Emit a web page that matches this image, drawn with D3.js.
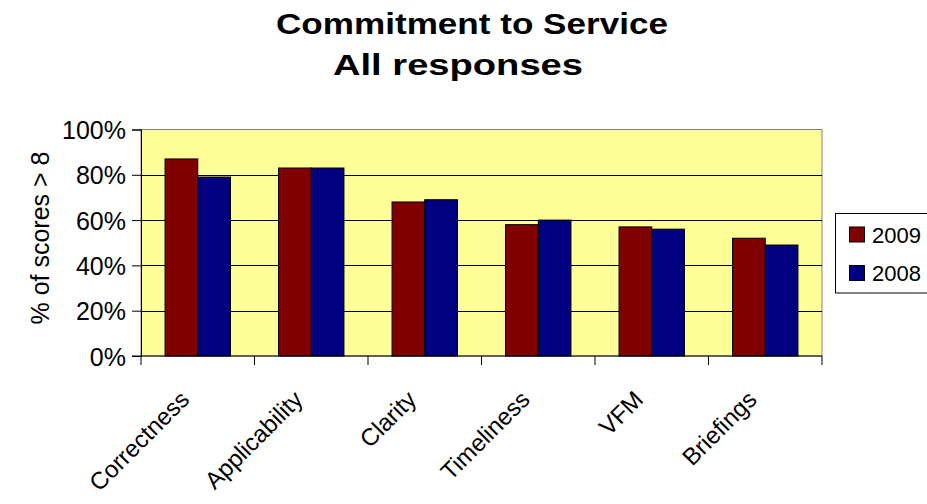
<!DOCTYPE html>
<html>
<head>
<meta charset="utf-8">
<script src="https://cdn.jsdelivr.net/npm/d3@7"></script>
<style>
  html, body { margin: 0; padding: 0; background: #fff; }
  svg { display: block; font-family: "Liberation Sans", Arial, sans-serif; }
</style>
</head>
<body>
<svg id="chart" width="927" height="504"></svg>
<script>
// Share of scores above 8, by service aspect
const categories = ["Correctness", "Applicability", "Clarity", "Timeliness", "VFM", "Briefings"];
const seriesNames = ["2009", "2008"];
const values2009 = [87, 83, 68, 58, 57, 52];
const values2008 = [79, 83, 69, 60, 56, 49];
const yTicks = [0, 20, 40, 60, 80, 100];
const titleLines = ["Commitment to Service", "All responses"];
const colors = ["#800000", "#000080"];

const FONT = "Liberation Sans, Arial, sans-serif";
const svg = d3.select("#chart");
const plot = { left: 141, right: 822, top: 129.5, bottom: 356 };

const x = d3.scaleBand().domain(categories).range([plot.left, plot.right]).paddingInner(0).paddingOuter(0);
const x1 = d3.scaleBand().domain(seriesNames).range([0, x.bandwidth()]).paddingInner(0).paddingOuter(0.735);
const y = d3.scaleLinear().domain([0, 100]).range([plot.bottom, plot.top]);

// plot background
svg.append("rect")
  .attr("x", plot.left).attr("y", plot.top)
  .attr("width", plot.right - plot.left).attr("height", plot.bottom - plot.top)
  .attr("fill", "#FFFF99").attr("stroke", "#808080").attr("stroke-width", 1);

// gridlines
svg.append("g").selectAll("line").data(yTicks.filter(d => d > 0 && d < 100)).join("line")
  .attr("x1", plot.left).attr("x2", plot.right)
  .attr("y1", d => Math.round(y(d)) + 0.5).attr("y2", d => Math.round(y(d)) + 0.5)
  .attr("stroke", "#000").attr("stroke-width", 1);

// bars
const rows = categories.map((c, i) => ({ cat: c, vals: [values2009[i], values2008[i]] }));
const groups = svg.append("g").selectAll("g").data(rows).join("g")
  .attr("transform", d => `translate(${x(d.cat)},0)`);
groups.selectAll("rect").data(d => d.vals.map((v, j) => ({ key: seriesNames[j], v, j }))).join("rect")
  .attr("x", d => x1(d.key))
  .attr("y", d => y(d.v))
  .attr("width", x1.bandwidth())
  .attr("height", d => y(0) - y(d.v))
  .attr("fill", d => colors[d.j])
  .attr("stroke", "#000").attr("stroke-width", 1);

// y axis
const yAxis = d3.axisLeft(y).tickValues(yTicks).tickFormat(d => d + "%").tickSize(9).tickPadding(6);
const gy = svg.append("g").attr("transform", `translate(${plot.left},0)`).call(yAxis);
gy.attr("font-family", FONT).attr("font-size", 25);
gy.select(".domain").attr("stroke", "#000");
gy.selectAll("line").attr("stroke", "#000");
gy.selectAll("text").attr("fill", "#000").attr("dy", "0.36em");

// x axis: ticks on category boundaries
const gx = svg.append("g").attr("transform", `translate(0,${plot.bottom})`);
gx.append("line").attr("x1", plot.left - 9).attr("x2", plot.right).attr("y1", 0).attr("y2", 0).attr("stroke", "#000");
const boundaries = categories.map(c => x(c)).concat([plot.right]);
gx.selectAll("line.tick").data(boundaries).join("line").attr("class", "tick")
  .attr("x1", d => d).attr("x2", d => d).attr("y1", 0).attr("y2", 9).attr("stroke", "#000");
gx.selectAll("text").data(categories).join("text")
  .attr("transform", d => `translate(${x(d) + x.bandwidth() / 2 - 7},${45}) rotate(-45)`)
  .attr("text-anchor", "end")
  .attr("font-size", 24)
  .attr("fill", "#000")
  .text(d => d);

// y axis title
svg.append("text")
  .attr("transform", `translate(49,238) rotate(-90)`)
  .attr("text-anchor", "middle")
  .attr("font-size", 25)
  .text("% of scores > 8");

// chart title
const title = svg.append("text").attr("text-anchor", "middle").attr("font-size", 29).attr("font-weight", "bold");
title.append("tspan").attr("x", 472).attr("y", 34).attr("textLength", 392).attr("lengthAdjust", "spacingAndGlyphs").text(titleLines[0]);
title.append("tspan").attr("x", 458).attr("y", 75).attr("textLength", 250).attr("lengthAdjust", "spacingAndGlyphs").text(titleLines[1]);

// legend
const legend = svg.append("g");
legend.append("rect").attr("x", 835.5).attr("y", 213.5).attr("width", 100).attr("height", 79.5)
  .attr("fill", "#fff").attr("stroke", "#000");
const items = legend.selectAll("g").data(seriesNames).join("g")
  .attr("transform", (d, i) => `translate(849,${234.5 + i * 38.5})`);
items.append("rect").attr("x", 0.5).attr("y", -7.5).attr("width", 15).attr("height", 15)
  .attr("fill", (d, i) => colors[i]).attr("stroke", "#000");
items.append("text").attr("x", 23).attr("y", 8).attr("font-size", 22).text(d => d);
</script>
</body>
</html>
